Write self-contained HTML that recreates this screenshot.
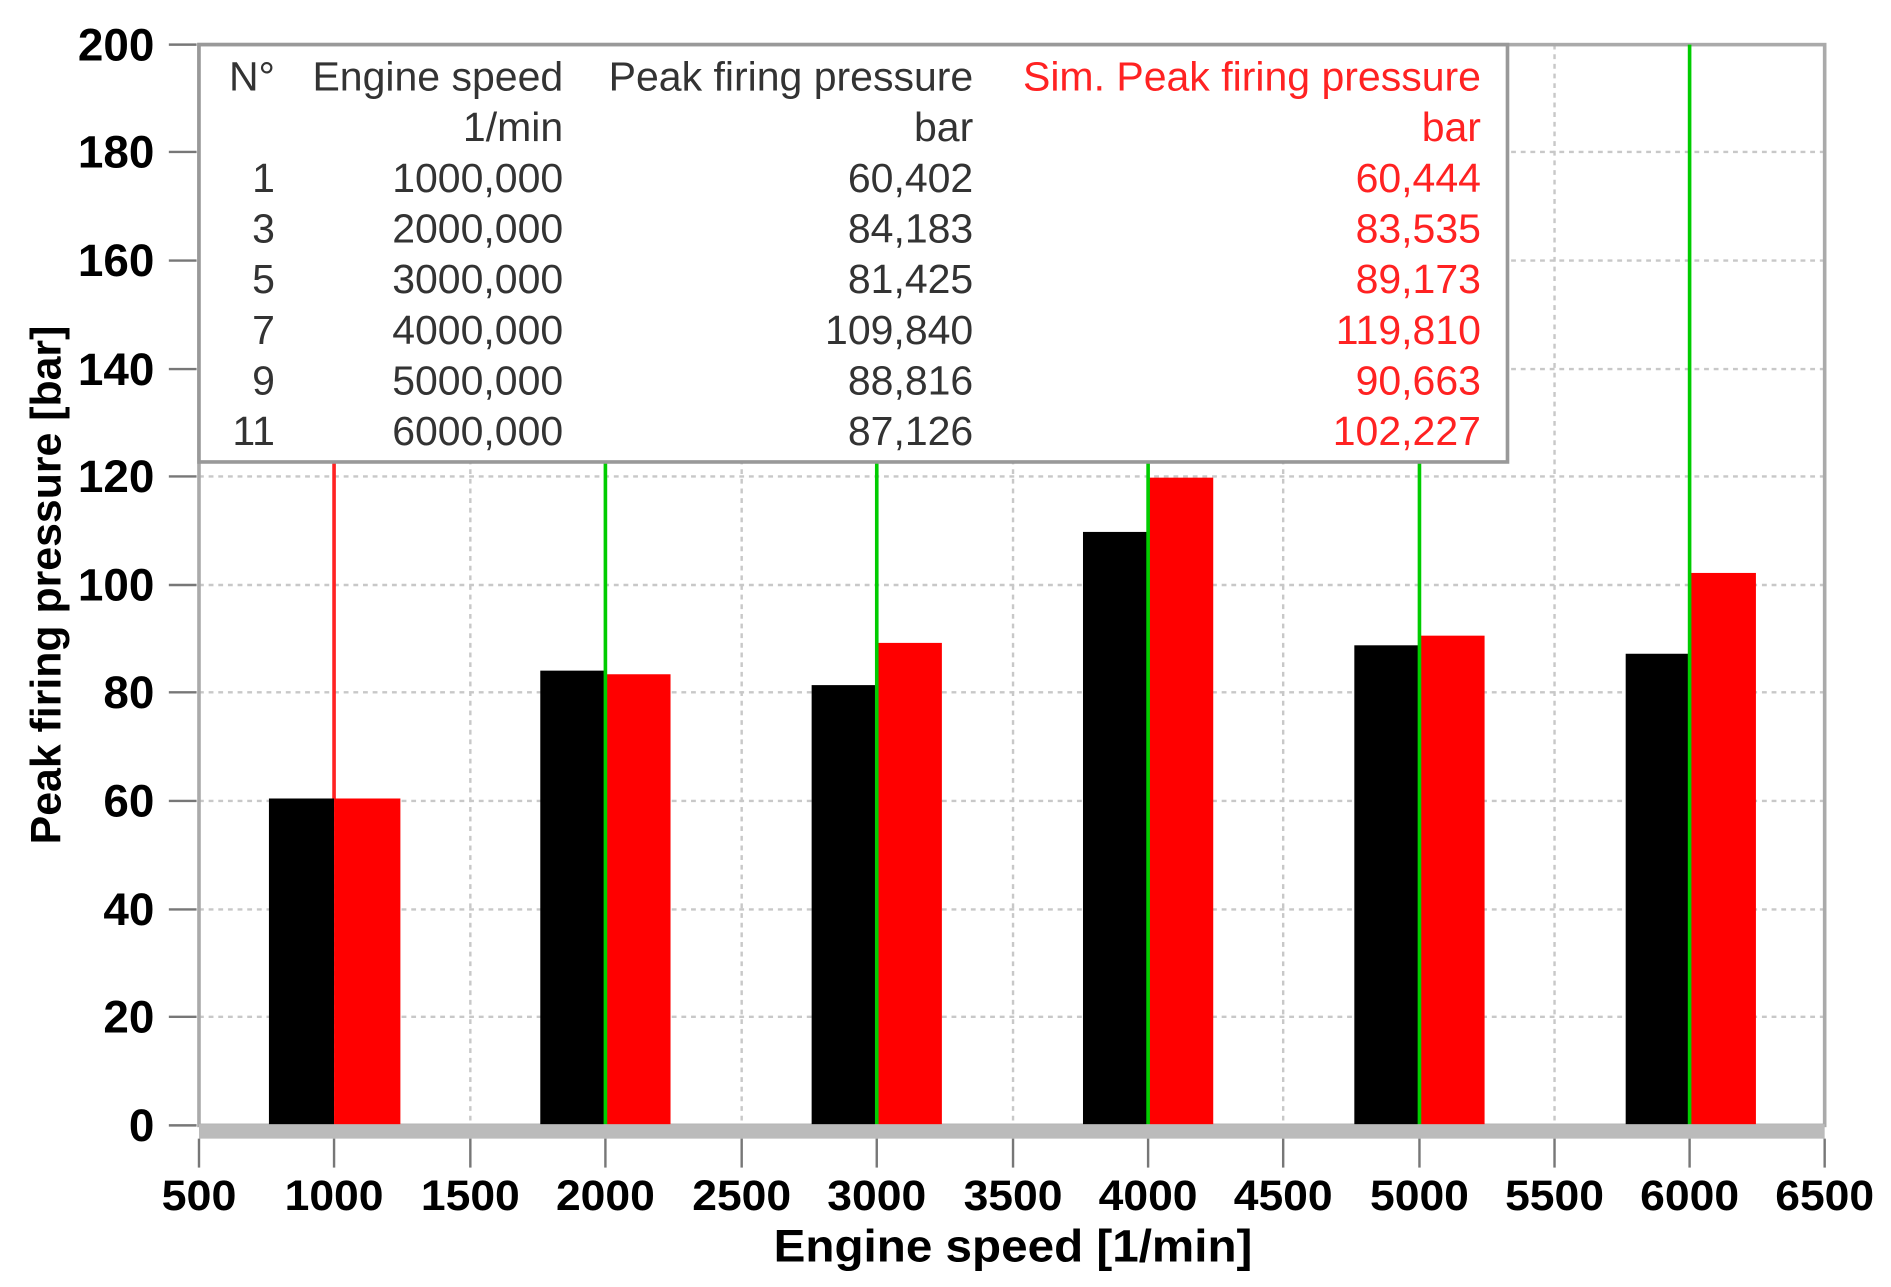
<!DOCTYPE html>
<html><head><meta charset="utf-8"><style>
html,body{margin:0;padding:0;background:#fff;}
svg{display:block;}
</style></head><body>
<svg width="1891" height="1287" viewBox="0 0 1568 1067" xmlns="http://www.w3.org/2000/svg" preserveAspectRatio="none">
<rect x="0" y="0" width="1568" height="1067" fill="#fff"/>
<g stroke="#c8c8c8" stroke-width="2" stroke-dasharray="4,4">
<line x1="390" y1="37" x2="390" y2="933"/><line x1="615" y1="37" x2="615" y2="933"/>
<line x1="840" y1="37" x2="840" y2="933"/><line x1="1064" y1="37" x2="1064" y2="933"/>
<line x1="1289" y1="37" x2="1289" y2="933"/>
<line x1="277" y1="37" x2="277" y2="933"/><line x1="502" y1="37" x2="502" y2="933"/>
<line x1="727" y1="37" x2="727" y2="933"/><line x1="952" y1="37" x2="952" y2="933"/>
<line x1="1177" y1="37" x2="1177" y2="933"/><line x1="1401" y1="37" x2="1401" y2="933"/>
<line x1="165" y1="843" x2="1513" y2="843"/><line x1="165" y1="754" x2="1513" y2="754"/>
<line x1="165" y1="664" x2="1513" y2="664"/><line x1="165" y1="574" x2="1513" y2="574"/>
<line x1="165" y1="485" x2="1513" y2="485"/><line x1="165" y1="395" x2="1513" y2="395"/>
<line x1="165" y1="306" x2="1513" y2="306"/><line x1="165" y1="216" x2="1513" y2="216"/>
<line x1="165" y1="126" x2="1513" y2="126"/>
</g>
<rect x="165" y="37" width="1348" height="896" fill="none" stroke="#aaa" stroke-width="3"/>
<g>
<rect x="223" y="662" width="54" height="271" fill="#000"/><rect x="277" y="662" width="55" height="271" fill="#f00"/>
<rect x="448" y="556" width="54" height="377" fill="#000"/><rect x="502" y="559" width="54" height="374" fill="#f00"/>
<rect x="673" y="568" width="54" height="365" fill="#000"/><rect x="727" y="533" width="54" height="400" fill="#f00"/>
<rect x="898" y="441" width="54" height="492" fill="#000"/><rect x="952" y="396" width="54" height="537" fill="#f00"/>
<rect x="1123" y="535" width="54" height="398" fill="#000"/><rect x="1177" y="527" width="54" height="406" fill="#f00"/>
<rect x="1348" y="542" width="53" height="391" fill="#000"/><rect x="1401" y="475" width="55" height="458" fill="#f00"/>
</g>
<g stroke-width="3">
<line x1="277" y1="383" x2="277" y2="662" stroke="#f22"/>
<line x1="502" y1="383" x2="502" y2="933" stroke="#0c0"/>
<line x1="727" y1="383" x2="727" y2="933" stroke="#0c0"/>
<line x1="952" y1="383" x2="952" y2="933" stroke="#0c0"/>
<line x1="1177" y1="383" x2="1177" y2="933" stroke="#0c0"/>
<line x1="1401" y1="37" x2="1401" y2="933" stroke="#0c0"/>
</g>
<rect x="165" y="37" width="1085" height="346" fill="#fff" stroke="#999" stroke-width="3"/>
<g font-family="Liberation Sans, sans-serif" font-size="34" fill="#333" text-anchor="end">
<text x="228" y="75">N°</text><text x="467" y="75">Engine speed</text><text x="807" y="75">Peak firing pressure</text>
<text x="467" y="117">1/min</text><text x="807" y="117">bar</text>
<text x="228" y="159">1</text><text x="467" y="159">1000,000</text><text x="807" y="159">60,402</text>
<text x="228" y="201">3</text><text x="467" y="201">2000,000</text><text x="807" y="201">84,183</text>
<text x="228" y="243">5</text><text x="467" y="243">3000,000</text><text x="807" y="243">81,425</text>
<text x="228" y="285">7</text><text x="467" y="285">4000,000</text><text x="807" y="285">109,840</text>
<text x="228" y="327">9</text><text x="467" y="327">5000,000</text><text x="807" y="327">88,816</text>
<text x="228" y="369">11</text><text x="467" y="369">6000,000</text><text x="807" y="369">87,126</text>
<g fill="#f22">
<text x="1228" y="75">Sim. Peak firing pressure</text><text x="1228" y="117">bar</text>
<text x="1228" y="159">60,444</text><text x="1228" y="201">83,535</text><text x="1228" y="243">89,173</text>
<text x="1228" y="285">119,810</text><text x="1228" y="327">90,663</text><text x="1228" y="369">102,227</text>
</g></g>
<rect x="165" y="932" width="1348" height="12" fill="#bbb"/>
<g stroke="#777" stroke-width="2">
<line x1="165" y1="944" x2="165" y2="968"/><line x1="277" y1="944" x2="277" y2="968"/><line x1="390" y1="944" x2="390" y2="968"/>
<line x1="502" y1="944" x2="502" y2="968"/><line x1="615" y1="944" x2="615" y2="968"/><line x1="727" y1="944" x2="727" y2="968"/>
<line x1="840" y1="944" x2="840" y2="968"/><line x1="952" y1="944" x2="952" y2="968"/><line x1="1064" y1="944" x2="1064" y2="968"/>
<line x1="1177" y1="944" x2="1177" y2="968"/><line x1="1289" y1="944" x2="1289" y2="968"/><line x1="1401" y1="944" x2="1401" y2="968"/>
<line x1="1513" y1="944" x2="1513" y2="968"/>
<line x1="140" y1="37" x2="163" y2="37"/><line x1="140" y1="126" x2="163" y2="126"/><line x1="140" y1="216" x2="163" y2="216"/>
<line x1="140" y1="306" x2="163" y2="306"/><line x1="140" y1="395" x2="163" y2="395"/><line x1="140" y1="485" x2="163" y2="485"/>
<line x1="140" y1="574" x2="163" y2="574"/><line x1="140" y1="664" x2="163" y2="664"/><line x1="140" y1="754" x2="163" y2="754"/>
<line x1="140" y1="843" x2="163" y2="843"/><line x1="140" y1="933" x2="163" y2="933"/>
</g>
<g font-family="Liberation Sans, sans-serif" font-weight="bold" font-size="35" fill="#000" text-anchor="middle">
<text x="165" y="1003" textLength="62" lengthAdjust="spacingAndGlyphs">500</text>
<text x="277" y="1003" textLength="82" lengthAdjust="spacingAndGlyphs">1000</text>
<text x="390" y="1003" textLength="82" lengthAdjust="spacingAndGlyphs">1500</text>
<text x="502" y="1003" textLength="82" lengthAdjust="spacingAndGlyphs">2000</text>
<text x="615" y="1003" textLength="82" lengthAdjust="spacingAndGlyphs">2500</text>
<text x="727" y="1003" textLength="82" lengthAdjust="spacingAndGlyphs">3000</text>
<text x="840" y="1003" textLength="82" lengthAdjust="spacingAndGlyphs">3500</text>
<text x="952" y="1003" textLength="82" lengthAdjust="spacingAndGlyphs">4000</text>
<text x="1064" y="1003" textLength="82" lengthAdjust="spacingAndGlyphs">4500</text>
<text x="1177" y="1003" textLength="82" lengthAdjust="spacingAndGlyphs">5000</text>
<text x="1289" y="1003" textLength="82" lengthAdjust="spacingAndGlyphs">5500</text>
<text x="1401" y="1003" textLength="82" lengthAdjust="spacingAndGlyphs">6000</text>
<text x="1513" y="1003" textLength="82" lengthAdjust="spacingAndGlyphs">6500</text>
<text x="840" y="1046" font-size="38" textLength="397" lengthAdjust="spacingAndGlyphs">Engine speed [1/min]</text>
<text transform="translate(50,485) rotate(-90)" font-size="35" textLength="430" lengthAdjust="spacingAndGlyphs">Peak firing pressure [bar]</text>
</g>
<g font-family="Liberation Sans, sans-serif" font-weight="bold" font-size="38" fill="#000" text-anchor="end">
<text x="128" y="50">200</text><text x="128" y="139">180</text><text x="128" y="229">160</text><text x="128" y="319">140</text>
<text x="128" y="408">120</text><text x="128" y="498">100</text><text x="128" y="587">80</text><text x="128" y="677">60</text>
<text x="128" y="767">40</text><text x="128" y="856">20</text><text x="128" y="946">0</text>
</g>
</svg>
</body></html>
